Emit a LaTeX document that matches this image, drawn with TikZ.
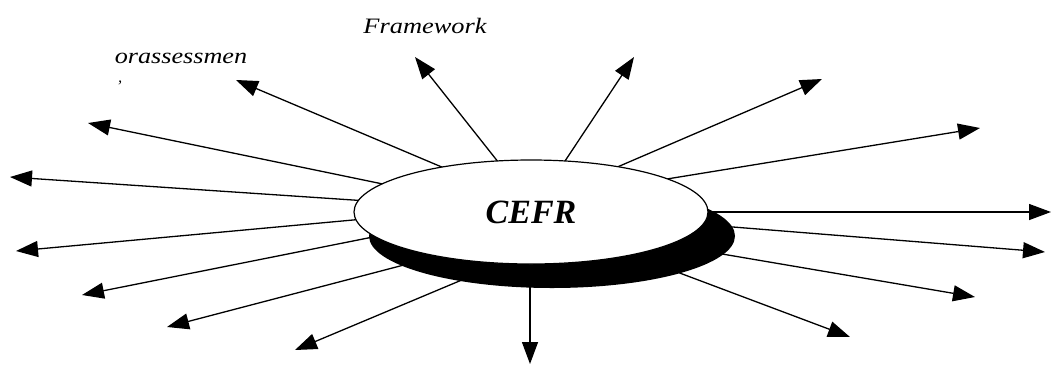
\documentclass[tikz,border=0pt]{standalone}
\usepackage{fontspec}
\setmainfont{Liberation Serif}
\usetikzlibrary{arrows.meta,shapes.geometric}
\begin{document}
\begin{tikzpicture}[x=1pt,y=-1pt,
  ray/.style={line width=1.3pt,-{Triangle[length=22pt,width=16pt]},shorten <=-6pt},
  lbl/.style={font=\itshape\fontsize{22}{22}\selectfont,inner sep=0pt,anchor=base}]
\useasboundingbox (0,0) rectangle (1051,365);
% ray end points
\coordinate (s1) at (437,165);  \coordinate (t1) at (236,80);
\coordinate (s2) at (495,158);  \coordinate (t2) at (415,57);
\coordinate (s3) at (567,158);  \coordinate (t3) at (634,57);
\coordinate (s4) at (622,165);  \coordinate (t4) at (822,79);
\coordinate (s5) at (673,178);  \coordinate (t5) at (980,128);
\coordinate (s6) at (707,212);  \coordinate (t6) at (1051,212);
\coordinate (s7) at (733,227);  \coordinate (t7) at (1045,252);
\coordinate (s8) at (728,255);  \coordinate (t8) at (975,297);
\coordinate (s9) at (685,275);  \coordinate (t9) at (850,337);
\coordinate (s10) at (530,288); \coordinate (t10) at (530,364);
\coordinate (s11) at (457,282); \coordinate (t11) at (295,350);
\coordinate (s12) at (400,266); \coordinate (t12) at (167,327);
\coordinate (s13) at (373,237); \coordinate (t13) at (82,295);
\coordinate (s14) at (353,220); \coordinate (t14) at (16,251);
\coordinate (s15) at (353,200); \coordinate (t15) at (10,177);
\coordinate (s16) at (378,183); \coordinate (t16) at (88,123);
\foreach \i in {1,...,16} \draw[ray] (s\i) -- (t\i);
% shadow and ellipse
\node[ellipse,fill=black,minimum width=366pt,minimum height=104pt,inner sep=0pt] (shadow) at (552,236) {};
\node[ellipse,draw,line width=1.2pt,fill=white,minimum width=354pt,minimum height=104pt,inner sep=0pt,
  font=\bfseries\itshape\fontsize{34}{34}\selectfont] (cefr) at (531,212) {CEFR};
% labels
\node[lbl] (fw) at (425,33) {\scalebox{1.2}[1]{Framework}};
\node[lbl] (oa) at (181,63) {\scalebox{1.19}[1]{orassessmen}};
\node[font=\itshape\fontsize{16}{16}\selectfont,inner sep=0pt] (tick) at (119,86) {'};
\end{tikzpicture}
\end{document}
